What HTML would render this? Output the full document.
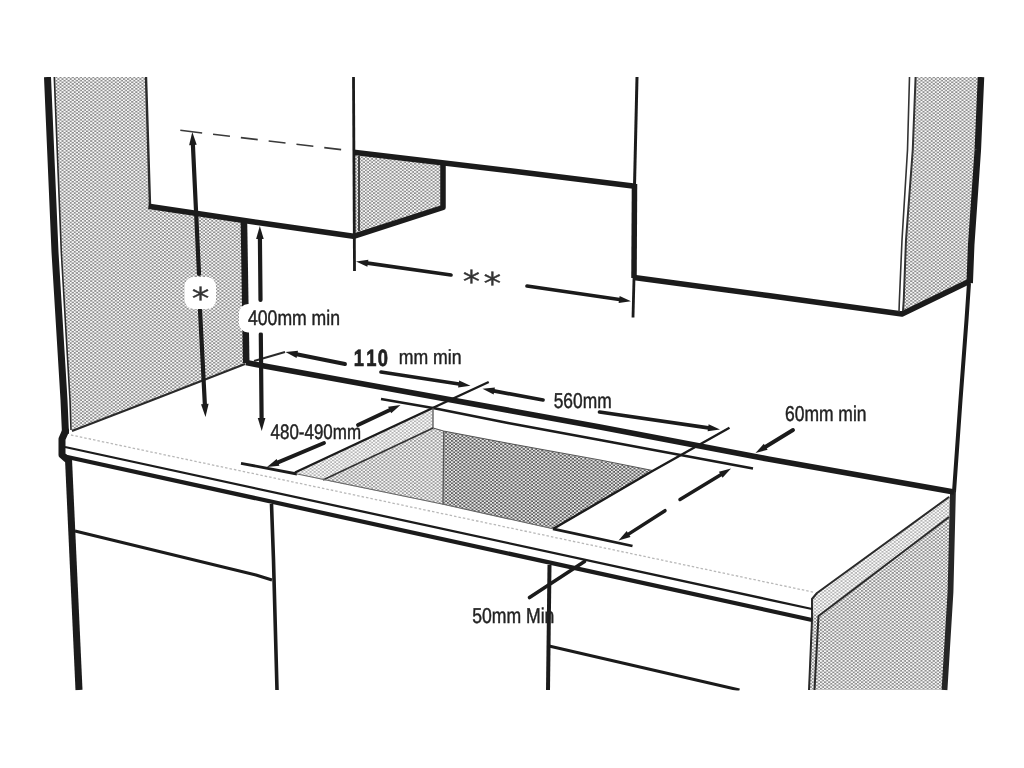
<!DOCTYPE html>
<html><head><meta charset="utf-8"><title>Installation diagram</title>
<style>
html,body{margin:0;padding:0;background:#fff;width:1024px;height:768px;overflow:hidden}
svg{display:block}
text{font-family:"Liberation Sans",sans-serif;fill:#222;stroke:#222;stroke-width:0.45px;text-rendering:geometricPrecision}
.ast{font-family:"DejaVu Sans","Liberation Sans",sans-serif;stroke:#333;stroke-width:0.3px;fill:#333}
</style></head><body>
<svg width="1024" height="768" viewBox="0 0 1024 768">
<defs>
<pattern id="pl" width="4.1" height="3.26" patternUnits="userSpaceOnUse"><rect width="4.1" height="3.26" fill="#fafafa"/><rect width="2.05" height="1.63" fill="#8e8e8e"/><rect x="2.05" y="1.63" width="2.05" height="1.63" fill="#8e8e8e"/></pattern>
<pattern id="pl2" width="4.1" height="3.26" patternUnits="userSpaceOnUse"><rect width="4.1" height="3.26" fill="#fdfdfd"/><rect width="2.05" height="1.63" fill="#b4b4b4"/><rect x="2.05" y="1.63" width="2.05" height="1.63" fill="#b4b4b4"/></pattern>
<pattern id="pm" width="4.1" height="3.26" patternUnits="userSpaceOnUse"><rect width="4.1" height="3.26" fill="#f9f9f9"/><rect width="2.05" height="1.63" fill="#9a9a9a"/><rect x="2.05" y="1.63" width="2.05" height="1.63" fill="#9a9a9a"/></pattern>
<pattern id="pd" width="4.1" height="3.26" patternUnits="userSpaceOnUse"><rect width="4.1" height="3.26" fill="#eaeaea"/><rect width="2.05" height="1.63" fill="#5c5c5c"/><rect x="2.05" y="1.63" width="2.05" height="1.63" fill="#5c5c5c"/></pattern>
<filter id="soft" x="0" y="0" width="1024" height="768" filterUnits="userSpaceOnUse"><feGaussianBlur stdDeviation="0.5" color-interpolation-filters="sRGB"/></filter>
<filter id="soft2" x="0" y="0" width="1024" height="768" filterUnits="userSpaceOnUse"><feGaussianBlur stdDeviation="0.3" color-interpolation-filters="sRGB"/></filter>
<clipPath id="clip"><rect x="0" y="77" width="1024" height="613.5"/></clipPath>
</defs>
<rect width="1024" height="768" fill="#fff"/>
<g clip-path="url(#clip)">
<g filter="url(#soft2)">
<polygon points="54,77 146,77 150,206 244,220.5 246,364 152.5,400 72,431 70,400 61,252" fill="url(#pl)"/>
<polygon points="355,153 441,163 441,206.5 355,234.5" fill="url(#pl)"/>
<polygon points="916,77 979,77 968,281 902,313 904,300 906.5,240 913,150" fill="url(#pl)"/>
<polygon points="949,496 817,593 811.5,599 811.5,620 808.5,690 945,690 953,496" fill="url(#pl)"/>
<polygon points="949,497 817,593 812,599 812,612 818.5,616 949,517" fill="url(#pl2)"/>
<polygon points="432.5,409 433,428 323,480 295,473" fill="url(#pl2)"/>
<polygon points="433,428 443.5,431 443,504.5 323,480" fill="url(#pm)"/>
<polygon points="443.5,431 652.5,470.5 553,529 443,504.5" fill="url(#pd)"/>
</g>
<g filter="url(#soft)">
<polyline points="47.5,77 55,252 64,400 65.5,434" fill="none" stroke="#1b1b1b" stroke-width="7" stroke-linecap="butt" stroke-linejoin="round"/>
<polyline points="54.3,77 61.3,252 70,400 71,430" fill="none" stroke="#2a2a2a" stroke-width="1.6" stroke-linecap="butt" stroke-linejoin="round"/>
<polyline points="146,77 150,205" fill="none" stroke="#2a2a2a" stroke-width="2.4" stroke-linecap="butt" stroke-linejoin="round"/>
<polyline points="72,431 152.5,400 245,364" fill="none" stroke="#2a2a2a" stroke-width="2" stroke-linecap="butt" stroke-linejoin="round"/>
<polyline points="148.5,206.3 256,222.3 353.5,236.3 443,207.5 443,162.5" fill="none" stroke="#1b1b1b" stroke-width="5.5" stroke-linecap="butt" stroke-linejoin="round"/>
<polyline points="353.5,152.3 512,171 635,186.3" fill="none" stroke="#1b1b1b" stroke-width="5.5" stroke-linecap="butt" stroke-linejoin="round"/>
<polyline points="359,156 359,231" fill="none" stroke="#333" stroke-width="1.8" stroke-linecap="butt" stroke-linejoin="round"/>
<polyline points="353.5,77 354.5,271" fill="none" stroke="#1b1b1b" stroke-width="2.8" stroke-linecap="butt" stroke-linejoin="round"/>
<polyline points="243.9,220 246.2,363" fill="none" stroke="#1b1b1b" stroke-width="6.6" stroke-linecap="butt" stroke-linejoin="round"/>
<polyline points="637,77 634.5,186" fill="none" stroke="#1b1b1b" stroke-width="3" stroke-linecap="butt" stroke-linejoin="round"/>
<polyline points="634.5,184 634,278" fill="none" stroke="#1b1b1b" stroke-width="5.5" stroke-linecap="butt" stroke-linejoin="round"/>
<polyline points="634,278 633,317.5" fill="none" stroke="#1b1b1b" stroke-width="2.8" stroke-linecap="butt" stroke-linejoin="round"/>
<polyline points="634,277.5 768,295.5 902,314 969,281.5" fill="none" stroke="#1b1b1b" stroke-width="5.5" stroke-linecap="butt" stroke-linejoin="round"/>
<polyline points="981,77 977.8,150 971.2,245 969.7,283" fill="none" stroke="#1b1b1b" stroke-width="6.5" stroke-linecap="butt" stroke-linejoin="round"/>
<polyline points="909.5,77 907.5,150 902,240 899.4,300 899,312" fill="none" stroke="#333" stroke-width="1.6" stroke-linecap="butt" stroke-linejoin="round"/>
<polyline points="915.6,77 912.75,150 906,240 903.75,300 903,311" fill="none" stroke="#333" stroke-width="2" stroke-linecap="butt" stroke-linejoin="round"/>
<polyline points="969,283 966.5,320 960.5,400 954,492" fill="none" stroke="#1b1b1b" stroke-width="4" stroke-linecap="butt" stroke-linejoin="round"/>
<polyline points="953,490 950.5,592 944.5,690" fill="none" stroke="#262626" stroke-width="5.8" stroke-linecap="butt" stroke-linejoin="round"/>
<polyline points="949,497 817,593 812,599 812,620 809,690" fill="none" stroke="#2a2a2a" stroke-width="2" stroke-linecap="butt" stroke-linejoin="round"/>
<polyline points="949,517 818.5,616 814.5,690" fill="none" stroke="#2a2a2a" stroke-width="2" stroke-linecap="butt" stroke-linejoin="round"/>
<polyline points="246,362.5 256,364.5 380,387 512,411 600,427 768,459 954,492" fill="none" stroke="#1b1b1b" stroke-width="5.8" stroke-linecap="butt" stroke-linejoin="round"/>
<polyline points="254,361 285,352" fill="none" stroke="#2a2a2a" stroke-width="2" stroke-linecap="butt" stroke-linejoin="round"/>
<polyline points="71,435 815,592.5" fill="none" stroke="#b8b8b8" stroke-width="1.3" stroke-linecap="butt" stroke-linejoin="round" stroke-dasharray="2.5 2"/>
<polyline points="65,447 812,609" fill="none" stroke="#1b1b1b" stroke-width="2.3" stroke-linecap="butt" stroke-linejoin="round"/>
<polyline points="65,456.5 812,620" fill="none" stroke="#1b1b1b" stroke-width="4.2" stroke-linecap="butt" stroke-linejoin="round"/>
<polyline points="65.5,431 62,439 62,455 66.5,459" fill="none" stroke="#1b1b1b" stroke-width="7" stroke-linecap="round" stroke-linejoin="round"/>
<polyline points="381,399 433,408 508,423 600,440 753,468.5" fill="none" stroke="#1b1b1b" stroke-width="2.6" stroke-linecap="butt" stroke-linejoin="round"/>
<polyline points="488.75,382 433.75,407.5 295,472.5" fill="none" stroke="#1b1b1b" stroke-width="2.4" stroke-linecap="butt" stroke-linejoin="round"/>
<polyline points="433,408 433,428" fill="none" stroke="#555" stroke-width="1.3" stroke-linecap="butt" stroke-linejoin="round"/>
<polyline points="433,428 323,480" fill="none" stroke="#333" stroke-width="1.6" stroke-linecap="butt" stroke-linejoin="round"/>
<polyline points="433,428 443.5,431 512,444 600,460 652.5,470.5" fill="none" stroke="#555" stroke-width="1.1" stroke-linecap="butt" stroke-linejoin="round"/>
<polyline points="443.75,431 443,504.5" fill="none" stroke="#555" stroke-width="1.3" stroke-linecap="butt" stroke-linejoin="round"/>
<polyline points="729.5,427.75 652.5,471 553,529" fill="none" stroke="#1b1b1b" stroke-width="2.4" stroke-linecap="butt" stroke-linejoin="round"/>
<polyline points="241,463.3 297,474" fill="none" stroke="#1b1b1b" stroke-width="2.8" stroke-linecap="butt" stroke-linejoin="round"/>
<polyline points="296,473.8 442,504 554,529" fill="none" stroke="#666" stroke-width="1.1" stroke-linecap="butt" stroke-linejoin="round"/>
<polyline points="553,528.8 632.5,546" fill="none" stroke="#1b1b1b" stroke-width="2.8" stroke-linecap="butt" stroke-linejoin="round"/>
<polyline points="68.5,459 79,690" fill="none" stroke="#1b1b1b" stroke-width="7" stroke-linecap="butt" stroke-linejoin="round"/>
<polyline points="75,531 256,575 272,580" fill="none" stroke="#1b1b1b" stroke-width="3" stroke-linecap="butt" stroke-linejoin="round"/>
<polyline points="271.5,504 273.5,560 277,690" fill="none" stroke="#1b1b1b" stroke-width="3.6" stroke-linecap="butt" stroke-linejoin="round"/>
<polyline points="549.5,565 548,690" fill="none" stroke="#1b1b1b" stroke-width="4" stroke-linecap="butt" stroke-linejoin="round"/>
<polyline points="549,646 739.5,690" fill="none" stroke="#1b1b1b" stroke-width="3" stroke-linecap="butt" stroke-linejoin="round"/>
<polyline points="180.3,130.3 342.5,149.8" fill="none" stroke="#3a3a3a" stroke-width="1.6" stroke-linecap="butt" stroke-linejoin="round" stroke-dasharray="22 11 17 11 17 11 17 11 17 11 17 11"/>
<polyline points="199,274 192.818,142.988" fill="none" stroke="#1b1b1b" stroke-width="4.2" stroke-linecap="round" stroke-linejoin="round"/>
<polygon points="192.3,132 196.708,144.806 189.117,145.165" fill="#1b1b1b"/>
<polyline points="200,310 204.935,406.015" fill="none" stroke="#1b1b1b" stroke-width="4.2" stroke-linecap="round" stroke-linejoin="round"/>
<polygon points="205.5,417 201.038,404.212 208.628,403.822" fill="#1b1b1b"/>
<polyline points="260.5,300 259.904,237" fill="none" stroke="#1b1b1b" stroke-width="4.2" stroke-linecap="round" stroke-linejoin="round"/>
<polygon points="259.8,226 263.723,238.963 256.123,239.035" fill="#1b1b1b"/>
<polyline points="260.8,334 261.598,420" fill="none" stroke="#1b1b1b" stroke-width="4.2" stroke-linecap="round" stroke-linejoin="round"/>
<polygon points="261.7,431 257.78,418.036 265.379,417.965" fill="#1b1b1b"/>
<polyline points="451,275 365.901,262.907" fill="none" stroke="#1b1b1b" stroke-width="3.7" stroke-linecap="round" stroke-linejoin="round"/>
<polygon points="356,261.5 368.373,259.723 367.388,266.653" fill="#1b1b1b"/>
<polyline points="527,286 621.105,299.754" fill="none" stroke="#1b1b1b" stroke-width="3.7" stroke-linecap="round" stroke-linejoin="round"/>
<polygon points="631,301.2 618.62,302.928 619.632,296.001" fill="#1b1b1b"/>
<polyline points="345,364 295.303,353.977" fill="none" stroke="#1b1b1b" stroke-width="3.9" stroke-linecap="round" stroke-linejoin="round"/>
<polygon points="285.5,352 297.975,350.843 296.551,357.901" fill="#1b1b1b"/>
<polyline points="381,372 460.617,384.276" fill="none" stroke="#1b1b1b" stroke-width="3.7" stroke-linecap="round" stroke-linejoin="round"/>
<polygon points="470.5,385.8 458.107,387.43 459.174,380.512" fill="#1b1b1b"/>
<polyline points="543,400 492.333,390.62" fill="none" stroke="#1b1b1b" stroke-width="3.7" stroke-linecap="round" stroke-linejoin="round"/>
<polygon points="482.5,388.8 494.937,387.543 493.662,394.426" fill="#1b1b1b"/>
<polyline points="599.5,412 710.104,428.063" fill="none" stroke="#1b1b1b" stroke-width="3.7" stroke-linecap="round" stroke-linejoin="round"/>
<polygon points="720,429.5 707.622,431.239 708.628,424.312" fill="#1b1b1b"/>
<polyline points="358,425 391.452,409.258" fill="none" stroke="#1b1b1b" stroke-width="3.9" stroke-linecap="round" stroke-linejoin="round"/>
<polygon points="400.5,405 391.175,413.367 388.109,406.852" fill="#1b1b1b"/>
<polyline points="324,443 276.216,463.119" fill="none" stroke="#1b1b1b" stroke-width="3.9" stroke-linecap="round" stroke-linejoin="round"/>
<polygon points="267,467 276.663,459.025 279.457,465.661" fill="#1b1b1b"/>
<polyline points="680,499.5 722.455,473.694" fill="none" stroke="#1b1b1b" stroke-width="3.5" stroke-linecap="round" stroke-linejoin="round"/>
<polygon points="731,468.5 722.564,477.724 718.928,471.742" fill="#1b1b1b"/>
<polyline points="665,510.7 626.919,535.104" fill="none" stroke="#1b1b1b" stroke-width="3.5" stroke-linecap="round" stroke-linejoin="round"/>
<polygon points="618.5,540.5 626.715,531.078 630.492,536.972" fill="#1b1b1b"/>
<polyline points="793,430 764.024,447.772" fill="none" stroke="#1b1b1b" stroke-width="3.9" stroke-linecap="round" stroke-linejoin="round"/>
<polygon points="755.5,453 763.847,443.657 767.611,449.795" fill="#1b1b1b"/>
<polyline points="529.5,597.5 584.5,561.5" fill="none" stroke="#1b1b1b" stroke-width="3.6" stroke-linecap="round" stroke-linejoin="round"/>
<rect x="184.5" y="277" width="31.5" height="32" rx="9" fill="#fff"/>
<rect x="239" y="304" width="110" height="28.5" rx="9" fill="#fff"/>
<text x="248" y="324.5" font-size="21" font-weight="normal" textLength="92" lengthAdjust="spacingAndGlyphs">400mm min</text>
<text transform="translate(353.7,365.5) scale(0.78,1)" x="0 16.15 30.8" y="0" font-size="23.5" font-weight="bold" style="stroke-width:0.7px">110</text>
<text x="398.7" y="364.3" font-size="20.5" font-weight="normal" textLength="62.8" lengthAdjust="spacingAndGlyphs">mm min</text>
<text x="270.6" y="438.7" font-size="21" font-weight="normal" textLength="90.4" lengthAdjust="spacingAndGlyphs">480-490mm</text>
<text x="553.7" y="407.6" font-size="21.5" font-weight="normal" textLength="58" lengthAdjust="spacingAndGlyphs">560mm</text>
<text x="785" y="421.2" font-size="21.5" font-weight="normal" textLength="81.5" lengthAdjust="spacingAndGlyphs">60mm min</text>
<text x="472.2" y="622.8" font-size="21.5" font-weight="normal" textLength="82.2" lengthAdjust="spacingAndGlyphs">50mm Min</text>
<text x="191.8" y="309.3" font-size="30" font-weight="normal" textLength="17.6" lengthAdjust="spacingAndGlyphs" class="ast">*</text>
<text x="462.85" y="292" font-size="30" font-weight="normal" textLength="17.3" lengthAdjust="spacingAndGlyphs" class="ast">*</text>
<text x="483.4" y="294" font-size="30" font-weight="normal" textLength="17.7" lengthAdjust="spacingAndGlyphs" class="ast">*</text>
</g></g>
</svg>
</body></html>
